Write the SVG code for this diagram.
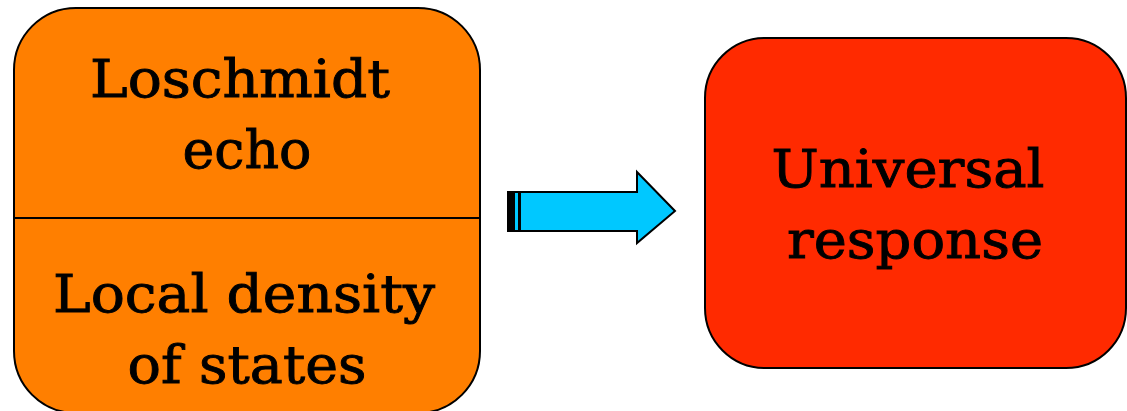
<svg xmlns="http://www.w3.org/2000/svg" width="1127" height="411" viewBox="0 0 1127 411">
<style>
.box{stroke:#000;stroke-width:2}
.t{font-family:"DejaVu Serif","Liberation Serif",serif;font-size:53px;fill:#000;stroke:#000;stroke-width:0.9;text-anchor:middle}
</style>
<rect width="1127" height="411" fill="#fff"/>
<g id="node-left">
<rect class="box" x="14" y="8" width="466" height="405" rx="62" ry="62" fill="#FF7F00"/>
<line x1="14" y1="218" x2="480" y2="218" stroke="#000" stroke-width="2"/>
<text class="t" x="240" y="97" textLength="300" lengthAdjust="spacingAndGlyphs">Loschmidt</text>
<text class="t" x="247" y="168" textLength="129" lengthAdjust="spacingAndGlyphs">echo</text>
<text class="t" x="244" y="312" textLength="382" lengthAdjust="spacingAndGlyphs">Local density</text>
<text class="t" x="247" y="383" textLength="239" lengthAdjust="spacingAndGlyphs">of states</text>
</g>
<g id="node-right">
<rect class="box" x="705" y="38" width="421" height="330" rx="60" ry="60" fill="#FF2A00"/>
<text class="t" x="908" y="187" textLength="273" lengthAdjust="spacingAndGlyphs">Universal</text>
<text class="t" x="915" y="258" textLength="256" lengthAdjust="spacingAndGlyphs">response</text>
</g>
<g id="connectors">
<path d="M508,192 L637,192 L637,172 L675,211 L637,243 L637,231 L508,231 Z" fill="#00C8FF" stroke="#000" stroke-width="2" stroke-linejoin="miter"/>
<rect x="508" y="192" width="7" height="39" fill="#000"/>
<line x1="519.5" y1="192" x2="519.5" y2="231" stroke="#000" stroke-width="3"/>
</g>
</svg>
